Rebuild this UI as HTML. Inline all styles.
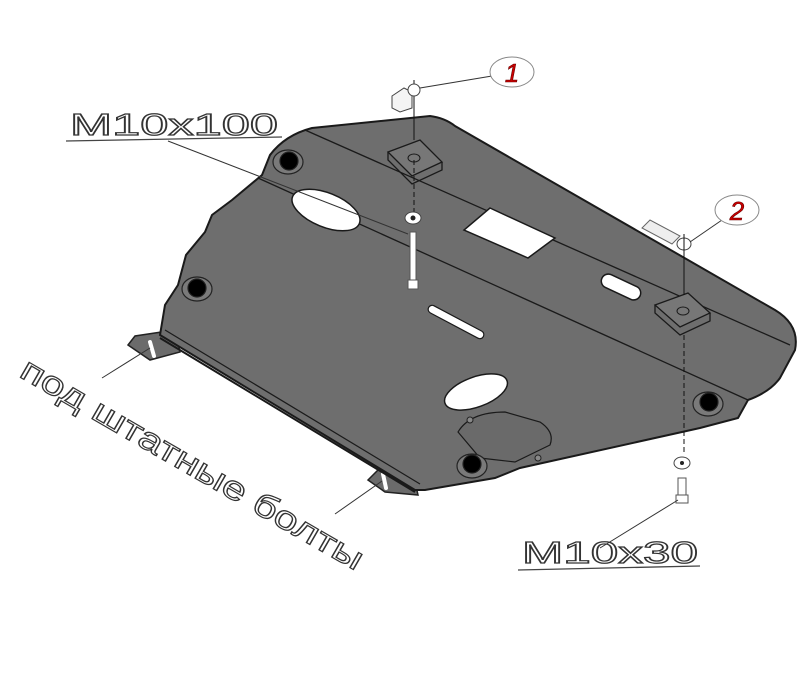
<!DOCTYPE html>
<html><head><meta charset="utf-8"><style>
html,body{margin:0;padding:0;background:#fff;}
svg{display:block;font-family:"Liberation Sans",sans-serif;}
</style></head><body>
<svg width="800" height="678" viewBox="0 0 800 678" xmlns="http://www.w3.org/2000/svg">
<!-- tabs -->
<path d="M128,345 L135,336 L175,330 L180,352 L150,360 Z" fill="#6b6b6b" stroke="#222" stroke-width="1.5"/>
<path d="M150,342 L154,356" stroke="#fff" stroke-width="4" stroke-linecap="round"/>
<path d="M368,480 L378,470 L412,468 L418,495 L385,492 Z" fill="#6b6b6b" stroke="#222" stroke-width="1.5"/>
<path d="M383,474 L386,488" stroke="#fff" stroke-width="4" stroke-linecap="round"/>
<!-- plate -->
<path d="M160,335 L165,305 L178,285 L186,255 L205,232 L212,215 L232,200 L262,175 L270,155 Q285,135 312,128 L430,116 Q445,118 455,126 L775,310 Q800,325 795,350 L780,378 Q770,392 748,400 L738,418 L700,428 L520,468 L495,478 L425,490 L415,490 Z" fill="#6e6e6e" stroke="#1a1a1a" stroke-width="2"/>
<path d="M160,338 L415,492" stroke="#1a1a1a" stroke-width="2" fill="none"/>
<path d="M165,330 L420,484" stroke="#1a1a1a" stroke-width="1.2" fill="none"/>
<!-- creases -->
<path d="M305,130 L790,345" stroke="#1a1a1a" stroke-width="1.3" fill="none"/>
<path d="M258,178 L748,400" stroke="#1a1a1a" stroke-width="1.3" fill="none"/>
<!-- white holes -->
<ellipse cx="326" cy="210" rx="36" ry="17" transform="rotate(22 326 210)" fill="#fff" stroke="#1a1a1a" stroke-width="1.5"/>
<path d="M490,208 L555,238 L528,258 L464,230 Z" fill="#fff" stroke="#1a1a1a" stroke-width="1.5"/>
<rect x="600" y="280" width="42" height="14" rx="7" transform="rotate(25 621 287)" fill="#fff" stroke="#1a1a1a" stroke-width="1.5"/>
<rect x="425" y="318" width="62" height="8" rx="4" transform="rotate(28 456 322)" fill="#fff" stroke="#1a1a1a" stroke-width="1.2"/>
<ellipse cx="476" cy="392" rx="33" ry="15" transform="rotate(-20 476 392)" fill="#fff" stroke="#1a1a1a" stroke-width="1.5"/>
<!-- hatch cover -->
<path d="M458,432 Q470,412 505,412 L540,422 Q555,432 550,445 L515,462 L480,458 Z" fill="#6a6a6a" stroke="#1a1a1a" stroke-width="1.2"/>
<circle cx="470" cy="420" r="3" fill="#888" stroke="#222"/>
<circle cx="538" cy="458" r="3" fill="#888" stroke="#222"/>
<!-- black holes -->
<g stroke="#222" stroke-width="1.2">
<ellipse cx="288" cy="162" rx="15" ry="12" fill="#7a7a7a"/><circle cx="289" cy="161" r="9" fill="#000"/>
<ellipse cx="197" cy="289" rx="15" ry="12" fill="#7a7a7a"/><circle cx="197" cy="288" r="9" fill="#000"/>
<ellipse cx="708" cy="404" rx="15" ry="12" fill="#7a7a7a"/><circle cx="709" cy="402" r="9" fill="#000"/>
<ellipse cx="472" cy="466" rx="15" ry="12" fill="#7a7a7a"/><circle cx="472" cy="464" r="9" fill="#000"/>
</g>
<!-- brackets -->
<path d="M388,152 L420,140 L442,162 L412,176 Z" fill="#777" stroke="#1a1a1a" stroke-width="1.3"/>
<path d="M388,152 L388,160 L412,184 L442,170 L442,162" fill="none" stroke="#1a1a1a" stroke-width="1.3"/>
<ellipse cx="414" cy="158" rx="6" ry="4" fill="#777" stroke="#1a1a1a"/>
<path d="M655,305 L688,293 L710,313 L680,327 Z" fill="#777" stroke="#1a1a1a" stroke-width="1.3"/>
<path d="M655,305 L655,313 L680,335 L710,321 L710,313" fill="none" stroke="#1a1a1a" stroke-width="1.3"/>
<ellipse cx="683" cy="311" rx="6" ry="4" fill="#777" stroke="#1a1a1a"/>
<!-- fastener axis 1 -->
<line x1="414" y1="80" x2="414" y2="140" stroke="#111" stroke-width="1"/>
<line x1="414" y1="160" x2="414" y2="212" stroke="#111" stroke-width="1" stroke-dasharray="5,3"/>
<path d="M392,96 L404,88 L412,92 L412,108 L400,112 L392,108 Z" fill="#f4f4f4" stroke="#444"/>
<circle cx="414" cy="90" r="6" fill="#fff" stroke="#444"/>
<ellipse cx="413" cy="218" rx="8" ry="6" fill="#fff" stroke="#444"/><circle cx="413" cy="218" r="2.5" fill="#222"/>
<rect x="410" y="232" width="6" height="50" fill="#fff" stroke="#555"/>
<rect x="408" y="280" width="10" height="9" fill="#fff" stroke="#555"/>
<!-- fastener axis 2 -->
<path d="M642,228 L650,220 L680,236 L672,244 Z" fill="#eee" stroke="#666"/>
<ellipse cx="684" cy="244" rx="7" ry="6" fill="#fff" stroke="#444"/>
<line x1="684" y1="234" x2="684" y2="295" stroke="#111" stroke-width="1"/>
<line x1="684" y1="335" x2="684" y2="455" stroke="#111" stroke-width="1" stroke-dasharray="5,3"/>
<ellipse cx="682" cy="463" rx="8" ry="6" fill="#fff" stroke="#444"/><circle cx="682" cy="463" r="2" fill="#222"/>
<rect x="678" y="478" width="8" height="20" fill="#fff" stroke="#555"/>
<rect x="676" y="495" width="12" height="8" fill="#fff" stroke="#555"/>
<!-- callouts -->
<line x1="420" y1="88" x2="492" y2="76" stroke="#333"/>
<ellipse cx="512" cy="72" rx="22" ry="15" fill="#fff" stroke="#888"/>
<text x="512" y="82" text-anchor="middle" font-size="26" font-style="italic" fill="#c00" stroke="#600" stroke-width="0.6">1</text>
<line x1="690" y1="242" x2="722" y2="220" stroke="#333"/>
<ellipse cx="737" cy="210" rx="22" ry="15" fill="#fff" stroke="#888"/>
<text x="737" y="220" text-anchor="middle" font-size="26" font-style="italic" fill="#c00" stroke="#600" stroke-width="0.6">2</text>
<!-- M10x100 -->
<text x="70" y="135" font-size="31" fill="#fff" stroke="#333" stroke-width="1.2" textLength="208" lengthAdjust="spacingAndGlyphs">M10x100</text>
<line x1="66" y1="141" x2="282" y2="137" stroke="#444" stroke-width="1.3"/>
<line x1="168" y1="141" x2="408" y2="234" stroke="#333" stroke-width="1"/>
<!-- M10x30 -->
<text x="522" y="563" font-size="31" fill="#fff" stroke="#333" stroke-width="1.2" textLength="176" lengthAdjust="spacingAndGlyphs">M10x30</text>
<line x1="518" y1="570" x2="700" y2="566" stroke="#444" stroke-width="1.3"/>
<line x1="600" y1="548" x2="678" y2="500" stroke="#333" stroke-width="1"/>
<!-- tab leaders -->
<line x1="102" y1="378" x2="150" y2="348" stroke="#333"/>
<line x1="335" y1="514" x2="382" y2="481" stroke="#333"/>
<text x="0" y="0" font-size="33" fill="#fff" stroke="#333" stroke-width="1.2" transform="translate(18,376) rotate(30)" textLength="390" lengthAdjust="spacingAndGlyphs">под штатные болты</text>
</svg>
</body></html>
